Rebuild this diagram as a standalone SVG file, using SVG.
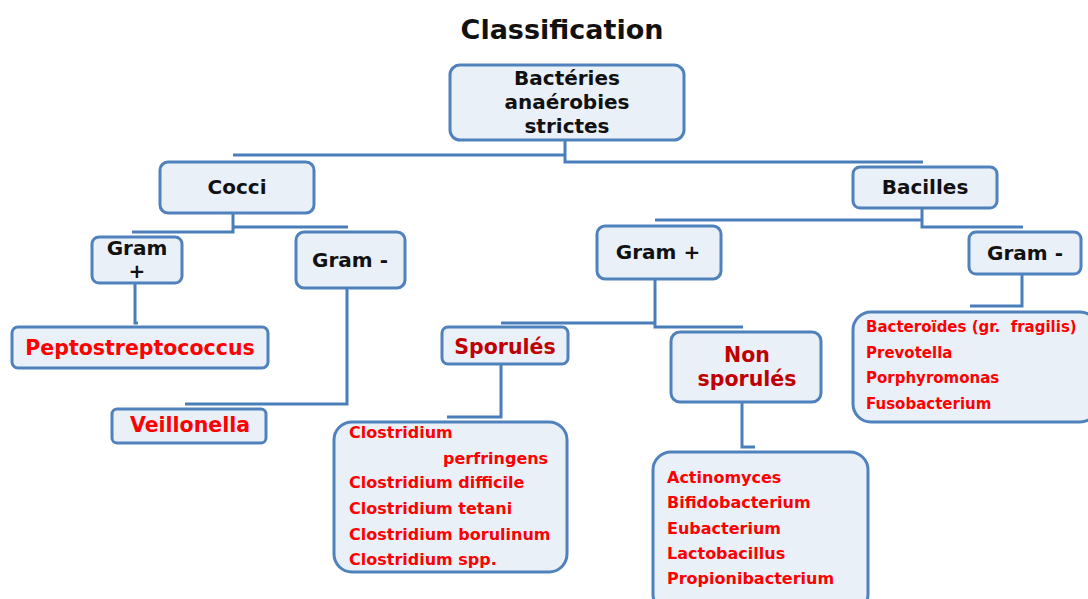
<svg xmlns="http://www.w3.org/2000/svg" width="1088" height="599" viewBox="0 0 1088 599">
<style>
text{font-family:"DejaVu Sans","Verdana",sans-serif;font-weight:bold;dominant-baseline:central}
.box{fill:#EAF0F8;stroke:#4F81BD;stroke-width:3}
.lbl{font-size:20px;fill:#111;text-anchor:middle}
.red{font-size:20.5px;fill:#FF0000;text-anchor:middle}
.dred{font-size:20.5px;fill:#C00000;text-anchor:middle}
.item{font-size:16px;fill:#FF0000}
.conn path{fill:none;stroke:#4A7EBB;stroke-width:3}
</style>
<rect width="1088" height="599" fill="#fff"/>
<text x="562" y="29" class="lbl" style="font-size:27px">Classification</text>
<g class="conn">
<path d="M233 155 H565"/>
<path d="M565 140 V162 H923"/>
<path d="M233 213 V232 H132"/>
<path d="M233 227 H348"/>
<path d="M135 283 V323 H138"/>
<path d="M347 288 V404 H185"/>
<path d="M655 220 H922"/>
<path d="M922 208 V227 H1023"/>
<path d="M501 323 H655"/>
<path d="M655 279 V327 H743"/>
<path d="M501 364 V417 H447"/>
<path d="M742 402 V447 H755"/>
<path d="M1022 274 V306 H970"/>
</g>
<g id="root"><rect class="box" x="450" y="65" width="234" height="75" rx="10"/>
<text class="lbl" x="567" y="78">Bactéries</text><text class="lbl" x="567" y="102">anaérobies</text><text class="lbl" x="567" y="126">strictes</text></g>
<g id="cocci"><rect class="box" x="160" y="162" width="154" height="51" rx="8"/><text class="lbl" x="237" y="187">Cocci</text></g>
<g id="gram-plus-cocci"><rect class="box" x="92" y="237" width="90" height="46" rx="7"/><text class="lbl" x="137" y="248">Gram</text><text class="lbl" x="137" y="271">+</text></g>
<g id="gram-minus-cocci"><rect class="box" x="296" y="232" width="109" height="56" rx="8"/><text class="lbl" x="350" y="260">Gram -</text></g>
<g id="peptostreptococcus"><rect class="box" x="12" y="327" width="256" height="41" rx="6"/><text class="red" x="140" y="348">Peptostreptococcus</text></g>
<g id="veillonella"><rect class="box" x="112" y="409" width="154" height="34" rx="5"/><text class="red" x="190" y="425">Veillonella</text></g>
<g id="bacilles"><rect class="box" x="853" y="167" width="144" height="41" rx="7"/><text class="lbl" x="925" y="187">Bacilles</text></g>
<g id="gram-plus-bacilles"><rect class="box" x="597" y="226" width="124" height="53" rx="8"/><text class="lbl" x="658" y="252">Gram +</text></g>
<g id="gram-minus-bacilles"><rect class="box" x="969" y="232" width="112" height="42" rx="7"/><text class="lbl" x="1025" y="253">Gram -</text></g>
<g id="sporules"><rect class="box" x="442" y="327" width="126" height="37" rx="6"/><text class="dred" x="505" y="347">Sporulés</text></g>
<g id="non-sporules"><rect class="box" x="671" y="332" width="150" height="70" rx="9"/><text class="dred" x="747" y="355">Non</text><text class="dred" x="747" y="379">sporulés</text></g>
<g id="clostridium"><rect class="box" x="334" y="422" width="233" height="150" rx="18"/>
<text class="item" x="349" y="432">Clostridium</text>
<text class="item" x="443" y="458">perfringens</text>
<text class="item" x="349" y="482">Clostridium difficile</text>
<text class="item" x="349" y="508">Clostridium tetani</text>
<text class="item" x="349" y="534">Clostridium borulinum</text>
<text class="item" x="349" y="559">Clostridium spp.</text></g>
<g id="non-sporules-list"><rect class="box" x="653" y="452" width="215" height="160" rx="18"/>
<text class="item" x="667" y="477">Actinomyces</text>
<text class="item" x="667" y="502">Bifidobacterium</text>
<text class="item" x="667" y="528">Eubacterium</text>
<text class="item" x="667" y="553">Lactobacillus</text>
<text class="item" x="667" y="578">Propionibacterium</text></g>
<g id="gram-minus-list"><rect class="box" x="853" y="312" width="245" height="110" rx="18"/>
<text class="item" x="866" y="327" style="font-size:15px">Bacteroïdes (gr.&#160; fragilis)</text>
<text class="item" x="866" y="353" style="font-size:15px">Prevotella</text>
<text class="item" x="866" y="378" style="font-size:15px">Porphyromonas</text>
<text class="item" x="866" y="404" style="font-size:15px">Fusobacterium</text></g>
</svg>
